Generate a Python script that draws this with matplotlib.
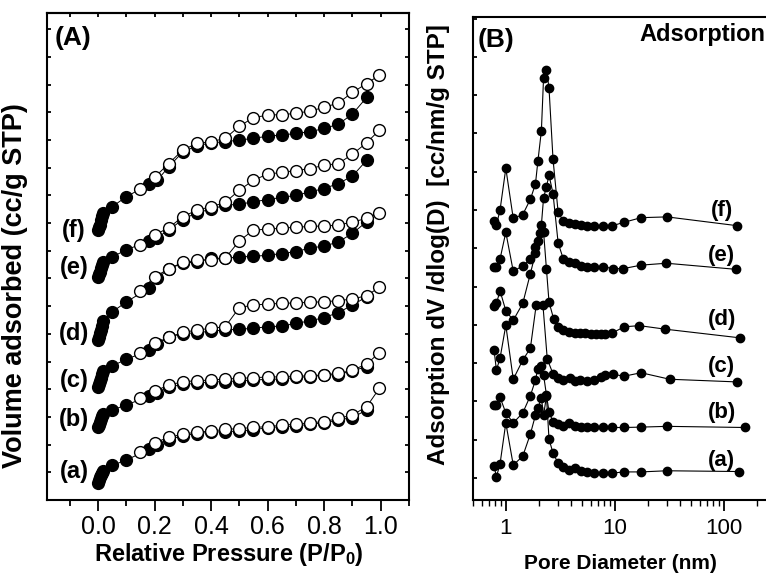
import numpy as np
import matplotlib
matplotlib.use('Agg')
import matplotlib.pyplot as plt
from matplotlib.ticker import MultipleLocator, FixedLocator, NullFormatter

plt.rcParams['font.family'] = ['Liberation Sans', 'DejaVu Sans']
plt.rcParams['mathtext.fontset'] = 'custom'
plt.rcParams['mathtext.rm'] = 'Liberation Sans:bold'
plt.rcParams['mathtext.bf'] = 'Liberation Sans:bold'
plt.rcParams['mathtext.default'] = 'bf'

# ---- panel A: isotherms (values in stacked, offset units) ----
ads_p = [0.001, 0.004, 0.007, 0.010, 0.014, 0.018, 0.05, 0.10, 0.18, 0.21, 0.25, 0.30,
         0.35, 0.40, 0.45, 0.50, 0.55, 0.60, 0.65, 0.70, 0.75, 0.80, 0.85, 0.90, 0.95]
des_p = [0.995, 0.95, 0.90, 0.85, 0.80, 0.75, 0.70, 0.65, 0.60, 0.55, 0.50, 0.45,
         0.40, 0.35, 0.30, 0.25, 0.20, 0.15]

ads_a = [0.62, 0.72, 0.82, 0.90, 0.98, 1.05, 1.25, 1.44, 1.83, 2.00, 2.18, 2.32, 2.40,
         2.45, 2.47, 2.49, 2.54, 2.61, 2.65, 2.67, 2.74, 2.79, 2.89, 2.98, 3.25]
des_a = [4.03, 3.37, 3.07, 2.95, 2.83, 2.79, 2.74, 2.70, 2.65, 2.62, 2.58, 2.55, 2.49,
         2.45, 2.38, 2.26, 2.07, 1.74]
ads_b = [2.62, 2.72, 2.82, 2.92, 3.02, 3.12, 3.25, 3.43, 3.75, 3.88, 4.07, 4.18, 4.21,
         4.27, 4.27, 4.31, 4.33, 4.36, 4.37, 4.43, 4.45, 4.51, 4.53, 4.67, 4.81]
des_b = [5.32, 4.91, 4.69, 4.57, 4.53, 4.48, 4.48, 4.45, 4.44, 4.42, 4.39, 4.37, 4.33,
         4.31, 4.27, 4.15, 3.93, 3.67]
ads_c = [4.09, 4.20, 4.30, 4.42, 4.55, 4.67, 4.84, 5.08, 5.40, 5.62, 5.89, 6.01, 6.04,
         6.10, 6.14, 6.17, 6.20, 6.26, 6.28, 6.38, 6.47, 6.59, 6.77, 7.04, 7.34]
des_c = [7.68, 7.38, 7.26, 7.20, 7.16, 7.14, 7.12, 7.10, 7.08, 7.04, 6.95, 6.26, 6.20,
         6.14, 6.05, 5.87, 5.66, 5.30]
ads_d = [5.78, 5.90, 6.03, 6.15, 6.30, 6.45, 6.79, 7.15, 7.65, 8.00, 8.35, 8.55, 8.60,
         8.73, 8.73, 8.78, 8.80, 8.84, 8.90, 8.97, 9.10, 9.17, 9.32, 9.63, 10.05]
des_d = [10.37, 10.17, 10.04, 9.93, 9.90, 9.88, 9.85, 9.82, 9.78, 9.75, 9.36, 8.73, 8.68,
         8.65, 8.58, 8.35, 8.05, 7.55]
ads_e = [8.05, 8.15, 8.25, 8.38, 8.50, 8.60, 8.78, 9.03, 9.36, 9.48, 9.75, 10.13, 10.38,
         10.50, 10.65, 10.68, 10.77, 10.85, 10.93, 11.00, 11.13, 11.25, 11.43, 11.70, 12.27]
des_e = [13.36, 12.90, 12.49, 12.15, 12.09, 11.97, 11.90, 11.83, 11.77, 11.55, 11.19, 10.75,
         10.59, 10.47, 10.23, 9.83, 9.57, 9.20]
ads_f = [9.75, 9.85, 9.95, 10.10, 10.25, 10.37, 10.59, 10.95, 11.40, 11.55, 12.03, 12.57,
         12.79, 12.90, 12.94, 13.00, 13.06, 13.14, 13.18, 13.24, 13.30, 13.42, 13.57, 13.94, 14.54]
des_f = [15.34, 15.04, 14.72, 14.34, 14.18, 14.05, 13.96, 13.92, 13.90, 13.81, 13.50, 13.06,
         12.94, 12.88, 12.64, 12.15, 11.65, 11.25]

iso_names = ['(a)', '(b)', '(c)', '(d)', '(e)', '(f)']
iso_label_y = [1.02, 2.89, 4.33, 6.03, 8.41, 9.75]

# ---- panel B: BJH adsorption PSD (offset units) ----
d_a = [0.78, 0.82, 0.885, 1.0, 1.17, 1.43, 1.68, 1.87, 1.97, 2.12, 2.22, 2.36, 2.49, 2.71,
       3.02, 3.36, 3.79, 4.32, 4.88, 5.55, 6.4, 7.8, 9.5, 12.2, 17.4, 30, 138]
v_a = [0.31, 0.03, 0.37, 1.44, 0.34, 0.57, 1.15, 1.64, 1.83, 2.09, 1.64, 2.14, 1.02, 0.65,
       0.39, 0.29, 0.21, 0.26, 0.18, 0.16, 0.14, 0.14, 0.13, 0.16, 0.16, 0.19, 0.17]
d_b = [0.78, 0.82, 0.885, 1.0, 1.17, 1.43, 1.68, 1.87, 1.97, 2.12, 2.22, 2.36, 2.49, 2.71,
       3.02, 3.36, 3.79, 4.32, 4.88, 5.55, 6.4, 7.8, 9.5, 12.2, 17.4, 30, 157]
v_b = [1.91, 1.91, 2.11, 1.70, 1.44, 1.70, 2.15, 2.56, 2.86, 2.92, 2.69, 2.17, 1.73, 1.47,
       1.41, 1.36, 1.44, 1.36, 1.33, 1.32, 1.32, 1.32, 1.32, 1.32, 1.33, 1.35, 1.32]
d_c = [0.78, 0.82, 0.885, 1.0, 1.17, 1.43, 1.68, 1.90, 2.19, 2.40, 2.71, 3.02, 3.36, 3.88,
       4.32, 4.8, 5.55, 6.4, 7.4, 8.2, 9.6, 12.2, 17.4, 31.9, 133]
v_c = [3.34, 2.82, 3.13, 3.99, 2.58, 3.08, 3.39, 4.52, 4.52, 3.11, 2.72, 2.60, 2.56, 2.60,
       2.54, 2.56, 2.54, 2.56, 2.64, 2.69, 2.71, 2.66, 2.75, 2.58, 2.51]
d_d = [0.78, 0.82, 0.885, 1.0, 1.17, 1.43, 1.68, 1.87, 2.22, 2.36, 2.49, 2.75, 3.02, 3.36,
       3.79, 4.32, 4.8, 5.35, 6.0, 6.65, 7.4, 8.2, 9.5, 12.2, 16.8, 28.6, 142]
v_d = [4.49, 4.56, 4.89, 4.37, 4.12, 4.56, 5.34, 5.87, 6.43, 5.45, 4.60, 4.15, 3.94, 3.86,
       3.81, 3.79, 3.79, 3.78, 3.76, 3.76, 3.76, 3.76, 3.79, 3.95, 3.98, 3.89, 3.66]
d_e = [0.78, 0.82, 0.885, 1.0, 1.17, 1.43, 1.68, 1.87, 1.97, 2.07, 2.12, 2.22, 2.36, 2.49,
       2.71, 3.02, 3.36, 3.79, 4.32, 4.88, 5.55, 6.4, 7.8, 9.6, 12.0, 17.4, 29.7, 130]
v_e = [5.52, 5.52, 5.72, 6.42, 5.40, 5.54, 5.71, 6.04, 6.20, 6.40, 6.61, 7.32, 7.61, 7.91,
       7.43, 6.14, 5.73, 5.65, 5.61, 5.55, 5.52, 5.52, 5.52, 5.47, 5.47, 5.56, 5.61, 5.45]
d_f = [0.78, 0.82, 0.885, 1.0, 1.17, 1.43, 1.68, 1.87, 1.97, 2.12, 2.22, 2.36, 2.49, 2.71,
       3.02, 3.36, 3.79, 4.32, 4.88, 5.55, 6.4, 7.8, 9.5, 12.2, 17.4, 30.2, 133]
v_f = [6.71, 6.61, 7.00, 8.09, 6.78, 6.88, 7.28, 7.68, 8.28, 9.07, 10.46, 10.65, 10.19, 8.33,
       6.94, 6.72, 6.67, 6.63, 6.61, 6.59, 6.59, 6.59, 6.59, 6.68, 6.80, 6.82, 6.59]

psd_label_y = [0.47, 1.70, 2.90, 4.13, 5.82, 7.00]

fig = plt.figure(figsize=(7.66, 5.75), dpi=100)
axA = fig.add_axes([0.0614, 0.1304, 0.4726, 0.8466])
axB = fig.add_axes([0.6175, 0.1304, 0.386, 0.84])

# panel A
ads_all = [ads_a, ads_b, ads_c, ads_d, ads_e, ads_f]
des_all = [des_a, des_b, des_c, des_d, des_e, des_f]
for ads, des in zip(ads_all, des_all):
    axA.plot(ads_p, ads, '-', color='k', lw=0.7, marker='o', ms=8.5,
             mfc='k', mec='k', mew=1.0, zorder=2)
    axA.plot(des_p, des, '-', color='k', lw=0.7, marker='o', ms=8.5,
             mfc='white', mec='k', mew=1.0, zorder=3)
for name, y in zip(iso_names, iso_label_y):
    axA.text(-0.085, y, name, fontsize=17, fontweight='bold', ha='center', va='center')

axA.set_xlim(-0.18, 1.1)
axA.set_ylim(0, 17.58)
axA.xaxis.set_major_locator(FixedLocator([0.0, 0.2, 0.4, 0.6, 0.8, 1.0]))
axA.xaxis.set_minor_locator(FixedLocator([-0.1, 0.1, 0.3, 0.5, 0.7, 0.9, 1.1]))
axA.yaxis.set_major_locator(MultipleLocator(1))
axA.set_yticklabels([])
axA.tick_params(axis='x', which='major', direction='out', length=8, width=1.3,
                labelsize=18, pad=3, top=False)
axA.tick_params(axis='x', which='minor', direction='out', length=4, width=1.3, top=False)
axA.tick_params(axis='y', which='major', direction='in', length=3, width=1.3,
                left=True, right=True)
axA.set_xticklabels(['0.0', '0.2', '0.4', '0.6', '0.8', '1.0'])
# top ticks inward every 0.1
axA_top = axA.secondary_xaxis('top')
axA_top.xaxis.set_major_locator(MultipleLocator(0.1))
axA_top.xaxis.set_major_formatter(NullFormatter())
axA_top.tick_params(direction='in', length=3, width=1.3)
for sp in list(axA.spines.values()) + [axA_top.spines['top']]:
    sp.set_linewidth(1.5)
axA.set_xlabel('Relative Pressure (P/P$_0$)', fontsize=17, fontweight='bold')
axA.xaxis.set_label_coords(0.503, -0.084)
axA.set_ylabel('Volume adsorbed (cc/g STP)', fontsize=19.5, fontweight='bold')
axA.yaxis.set_label_coords(-0.052, 0.44)
axA.text(0.022, 0.949, '(A)', transform=axA.transAxes, fontsize=19,
         fontweight='bold', ha='left', va='center')

# panel B
psd_x = [d_a, d_b, d_c, d_d, d_e, d_f]
psd_y = [v_a, v_b, v_c, v_d, v_e, v_f]
for xs, ys in zip(psd_x, psd_y):
    axB.plot(xs, ys, '-', color='k', lw=0.8, marker='o', ms=6, mfc='k', mec='k')
for name, y in zip(iso_names, psd_label_y):
    axB.text(96, y, name, fontsize=16, fontweight='bold', ha='center', va='center')

axB.set_xscale('log')
axB.set_xlim(0.5, 258)
axB.set_ylim(-0.574, 12.04)
axB.yaxis.set_major_locator(MultipleLocator(1))
axB.set_yticklabels([])
axB.set_xticks([1, 10, 100])
axB.set_xticklabels(['1', '10', '100'])
axB.tick_params(axis='x', which='major', direction='out', length=8, width=1.3,
                labelsize=16, pad=5)
axB.tick_params(axis='x', which='minor', direction='out', length=4, width=1.0)
axB.tick_params(axis='y', which='major', direction='in', length=3, width=1.3)
for sp in axB.spines.values():
    sp.set_linewidth(1.5)
axB.set_xlabel('Pore Diameter (nm)', fontsize=15, fontweight='bold')
axB.xaxis.set_label_coords(0.5, -0.112)
axB.set_ylabel('Adsorption dV /dlog(D)  [cc/nm/g STP]', fontsize=17.5, fontweight='bold')
axB.yaxis.set_label_coords(-0.078, 0.528)
axB.text(0.017, 0.952, '(B)', transform=axB.transAxes, fontsize=19,
         fontweight='bold', ha='left', va='center')
axB.text(0.99, 0.963, 'Adsorption', transform=axB.transAxes, fontsize=17,
         fontweight='bold', ha='right', va='center')

fig.savefig('out.png', dpi=100)
